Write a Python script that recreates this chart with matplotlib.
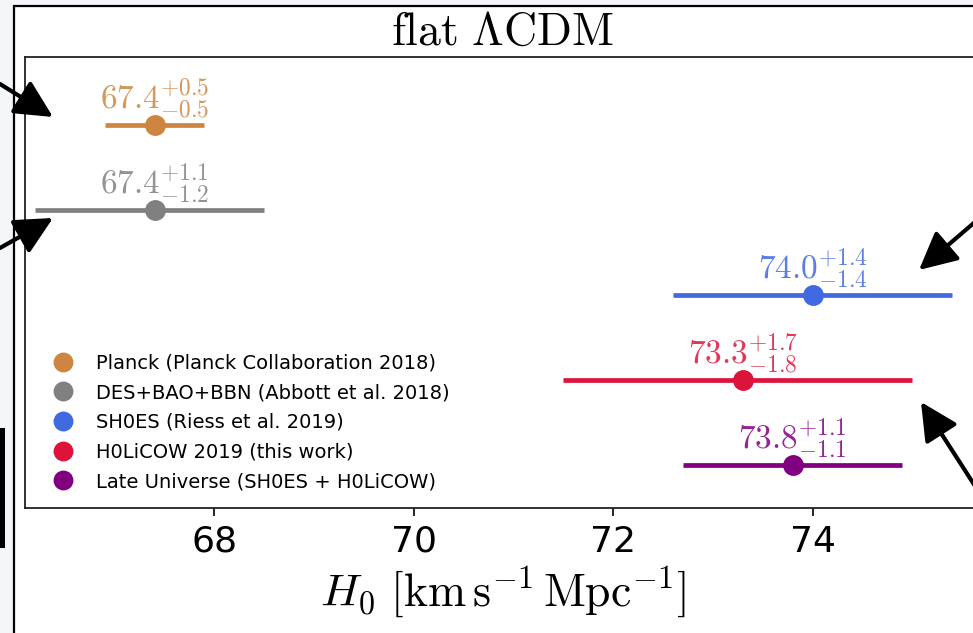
import matplotlib
matplotlib.use("Agg")
import matplotlib.pyplot as plt
from matplotlib.patches import Rectangle

plt.rcParams['mathtext.fontset'] = 'cm'

# H0 measurements, top row first
names = ["Planck (Planck Collaboration 2018)",
         "DES+BAO+BBN (Abbott et al. 2018)",
         "SH0ES (Riess et al. 2019)",
         "H0LiCOW 2019 (this work)",
         "Late Universe (SH0ES + H0LiCOW)"]
h0 = [67.4, 67.4, 74.0, 73.3, 73.8]
err_up = [0.5, 1.1, 1.4, 1.7, 1.1]
err_lo = [0.5, 1.2, 1.4, 1.8, 1.1]
colors = ["#CD853F", "#808080", "#4169E1", "#DC143C", "#800080"]
rows = [5, 4, 3, 2, 1]

W, H = 973, 633
fig = plt.figure(figsize=(W / 100, H / 100), dpi=100)
fig.patch.set_facecolor("#f4f6fa")

# white panel with a black border behind the plot
fig.add_artist(Rectangle((14 / W, -0.1), 1.2, 1 - 6 / H + 0.1,
                         transform=fig.transFigure, facecolor="white",
                         edgecolor="black", lw=1.6, zorder=0))
fig.add_artist(Rectangle((0, 1 - 548 / H), 5 / W, 120 / H,
                         transform=fig.transFigure, facecolor="black",
                         edgecolor="none", zorder=0))

ax = fig.add_axes([25 / W, 1 - 508 / H, 956 / W, 451 / H])
ax.set_facecolor("white")

for i in range(len(names)):
    ax.errorbar(h0[i], rows[i], xerr=[[err_lo[i]], [err_up[i]]],
                fmt="none", ecolor=colors[i], elinewidth=3.4, capsize=0)
    ax.plot(h0[i], rows[i], "o", color=colors[i], ms=14, label=names[i])
    ax.annotate(r"$%.1f^{+%.1f}_{-%.1f}$" % (h0[i], err_up[i], err_lo[i]),
                (h0[i], rows[i]), xytext=(0, 3), textcoords="offset points",
                ha="center", va="bottom", fontsize=24, color=colors[i],
                alpha=0.85)

ax.set_xlim(66.1, 75.69)
ax.set_ylim(0.5, 5.8)
ax.set_yticks([])
ax.set_xticks([68, 70, 72, 74])
ax.tick_params(axis="x", labelsize=26, length=6, width=1.2, pad=6)
for s in ax.spines.values():
    s.set_linewidth(1.3)
    s.set_color("#222222")
ax.set_xlabel(r"$H_0\ [\mathrm{km\,s^{-1}\,Mpc^{-1}}]$", fontsize=33,
              labelpad=4)

ax.legend(loc="lower left", frameon=False, fontsize=14,
          handletextpad=1.1, labelspacing=0.55, markerscale=0.95,
          bbox_to_anchor=(0.013, 0.007), borderaxespad=0.3, handlelength=1.2)

fig.text(503 / W, 1 - 32 / H, r"$\mathrm{flat}\ \Lambda\mathrm{CDM}$",
         ha="center", va="center", fontsize=33)

# pointer arrows coming in from outside the panel
arrows = [((0, 84), (53, 117)), ((0, 248), (53, 218)),
          ((975, 222), (919, 270)), ((975, 486), (921, 402))]
for tail, tip in arrows:
    ax.annotate("", xy=(tip[0], H - tip[1]), xycoords="figure pixels",
                xytext=(tail[0], H - tail[1]), textcoords="figure pixels",
                arrowprops=dict(arrowstyle="-|>,head_length=1.1,head_width=0.55",
                                mutation_scale=21, lw=3.0, color="black",
                                shrinkA=0, shrinkB=0),
                annotation_clip=False)

fig.savefig("out.png", dpi=100, facecolor=fig.get_facecolor())
